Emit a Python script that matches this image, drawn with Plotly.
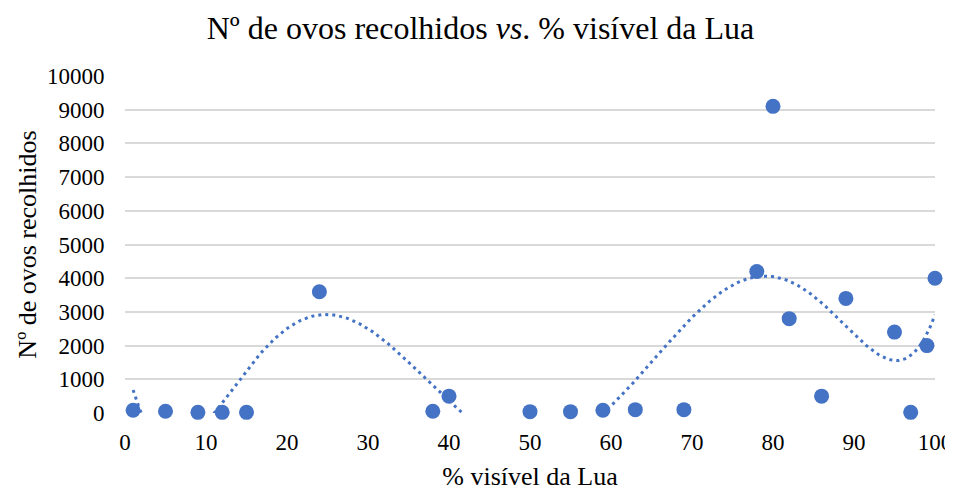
import numpy as np
import plotly.graph_objects as go

moon_pct = [1, 5, 9, 12, 15, 24, 38, 40, 50, 55, 59, 63, 69, 78, 80, 82, 86, 89, 95, 97, 99, 100]
eggs = [80, 50, 20, 20, 20, 3600, 50, 500, 40, 40, 80, 100, 100, 4200, 9100, 2800, 500, 3400, 2400, 20, 2000, 4000]
x_ticks = [0, 10, 20, 30, 40, 50, 60, 70, 80, 90, 100]
y_ticks = [0, 1000, 2000, 3000, 4000, 5000, 6000, 7000, 8000, 9000, 10000]

# polynomial trendline (order 6) fitted to the data
xs = np.array(moon_pct, dtype=float)
ys = np.array(eggs, dtype=float)
coef = np.polyfit(xs, ys, 6)
tx = np.linspace(min(moon_pct), max(moon_pct), 400)
ty = np.polyval(coef, tx)

blue = "#4472C4"
font = "Liberation Serif, Times New Roman, serif"

fig = go.Figure()
fig.add_trace(go.Scatter(x=tx, y=ty, mode="lines",
                         line=dict(color=blue, width=3, dash="3px,4px"),
                         hoverinfo="skip", showlegend=False))
fig.add_trace(go.Scatter(x=moon_pct, y=eggs, mode="markers",
                         marker=dict(color=blue, size=15),
                         cliponaxis=False, showlegend=False))

# page has an 8px body margin, so the figure is 8px smaller than the window
fig.update_layout(
    width=945, height=483,
    margin=dict(l=117, r=18, t=68, b=78),
    paper_bgcolor="white", plot_bgcolor="white",
    font=dict(family=font, color="#000000", size=23),
    title=dict(text="Nº de ovos recolhidos <i>vs</i>. % visível da Lua",
               x=0.5, xanchor="center", y=1 - 20 / 483, yanchor="middle",
               font=dict(size=32, family=font)),
    xaxis=dict(range=[0, 100], tickvals=x_ticks, showgrid=False, zeroline=False,
               showline=False, ticks="outside", ticklen=8, tickcolor="rgba(0,0,0,0)",
               tickfont=dict(size=23, family=font), automargin=False,
               title=dict(text="% visível da Lua", font=dict(size=26, family=font),
                          standoff=20)),
    yaxis=dict(range=[0, 10000], tickvals=y_ticks, tickformat="d", showgrid=True,
               gridcolor="#d9d9d9", gridwidth=1.5, zeroline=False, showline=False,
               ticks="outside", ticklen=15, tickcolor="rgba(0,0,0,0)",
               tickfont=dict(size=23, family=font), automargin=False,
               title=dict(text="Nº de ovos recolhidos", font=dict(size=26, family=font),
                          standoff=2)),
)

fig.write_html("out.html")
